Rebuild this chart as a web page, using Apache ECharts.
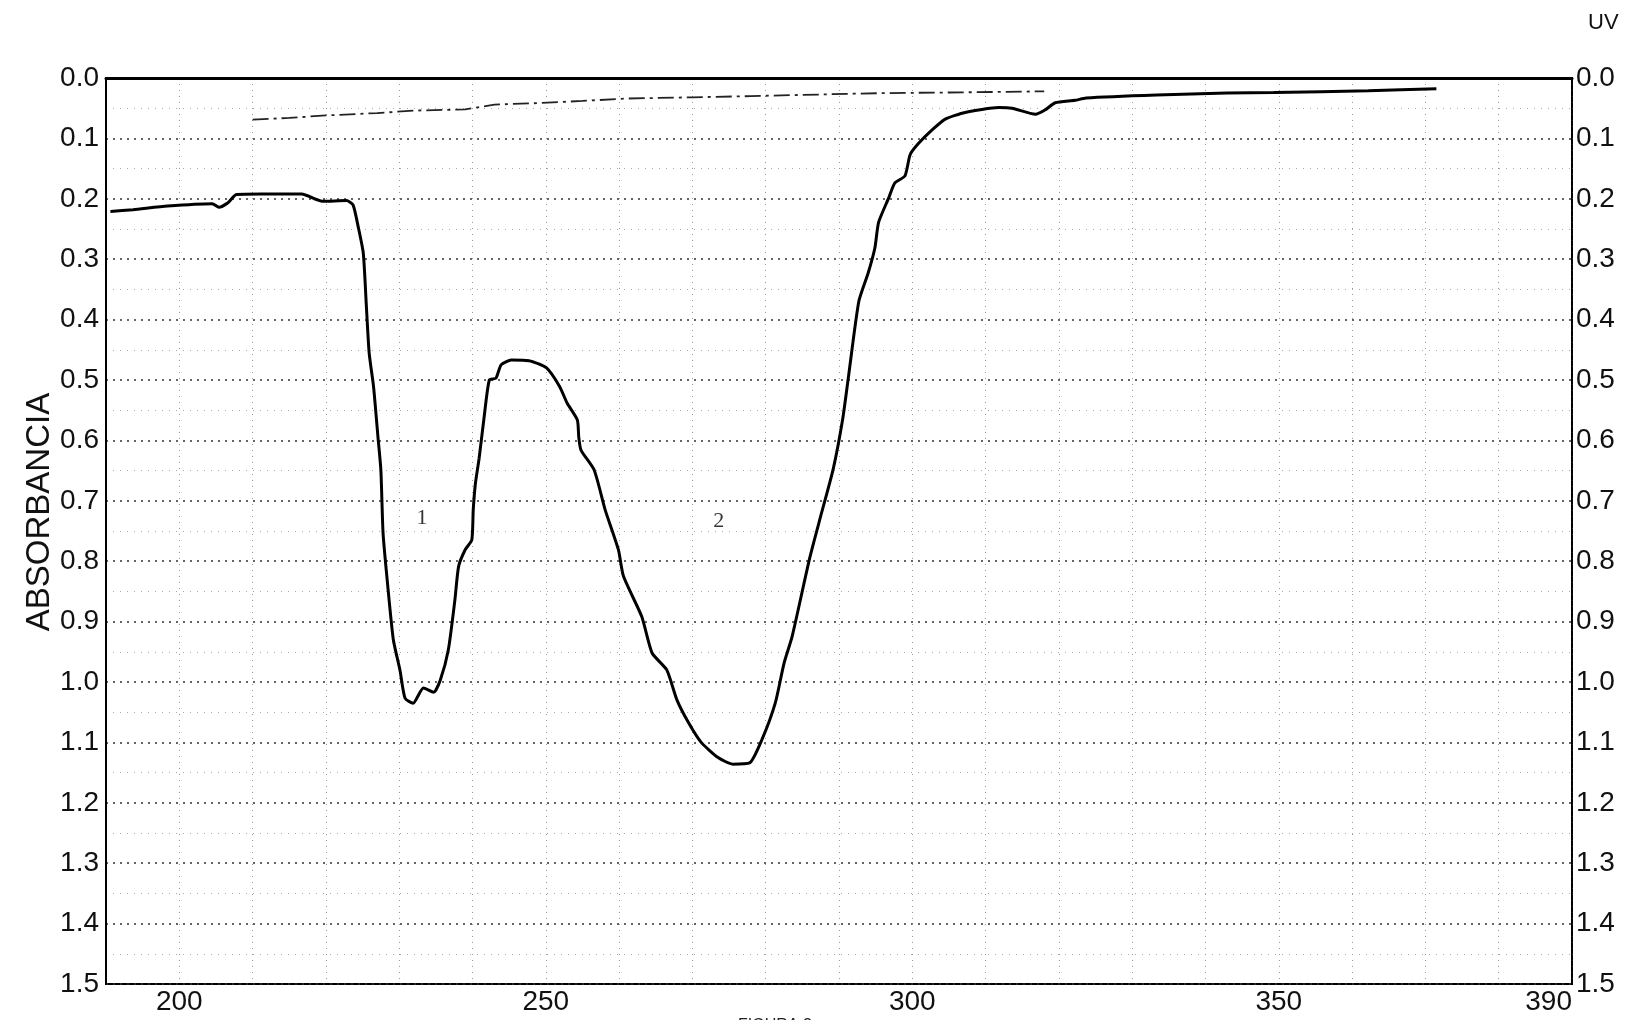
<!DOCTYPE html>
<html>
<head>
<meta charset="utf-8">
<title>UV</title>
<script src="https://cdn.jsdelivr.net/npm/echarts@6/dist/echarts.min.js"></script>
<style>
html, body { margin: 0; padding: 0; background: #fff; }
#uvChart { width: 1636px; height: 1020px; }
</style>
</head>
<body>
<div id="uvChart"></div>
<script>
// espectro (nm, absorbancia)
const wavelength = [
    190.6, 193.7, 198.4, 204.5, 205.4, 206.6, 207.8, 211.1, 216.7, 219.5,
    222.8, 223.7, 224.4, 225.1, 225.5, 225.9, 226.5, 227.1, 227.5, 227.8,
    228.4, 229.2, 230.1, 230.8, 231.9, 233.3, 234.7, 235.6, 236.7, 237.6,
    238.1, 239.0, 239.9, 240.1, 240.4, 240.9, 241.6, 242.3, 243.2, 243.9,
    245.3, 247.7, 250.1, 251.9, 252.9, 254.3, 254.5, 254.8, 256.6, 258.1,
    259.9, 260.6, 263.1, 264.5, 266.5, 267.9, 269.5, 271.2, 273.5, 275.5,
    277.8, 279.5, 281.3, 282.5, 283.6, 286.0, 287.6, 289.2, 290.5, 291.3,
    292.7, 294.0, 294.9, 295.4, 296.8, 297.6, 299.0, 299.7, 300.8, 302.7,
    304.5, 307.2, 311.8, 313.6, 316.8, 318.1, 319.5, 322.2, 323.7, 333.3,
    342.9, 349.3, 362.2, 371.5
];
const absorbance = [
    0.221, 0.218, 0.212, 0.208, 0.214, 0.207, 0.193, 0.192, 0.192, 0.204,
    0.203, 0.210, 0.246, 0.290, 0.373, 0.455, 0.511, 0.594, 0.649, 0.754,
    0.836, 0.930, 0.980, 1.027, 1.035, 1.010, 1.017, 0.997, 0.947, 0.864,
    0.809, 0.781, 0.765, 0.715, 0.671, 0.630, 0.560, 0.500, 0.497, 0.475,
    0.467, 0.468, 0.480, 0.511, 0.538, 0.566, 0.595, 0.616, 0.649, 0.715,
    0.781, 0.825, 0.892, 0.952, 0.980, 1.030, 1.068, 1.100, 1.125, 1.136,
    1.134, 1.095, 1.035, 0.969, 0.925, 0.795, 0.721, 0.648, 0.565, 0.494,
    0.370, 0.322, 0.281, 0.239, 0.198, 0.174, 0.162, 0.127, 0.109, 0.086,
    0.068, 0.057, 0.049, 0.050, 0.060, 0.053, 0.041, 0.037, 0.033, 0.028,
    0.025, 0.024, 0.021, 0.018
];
// linea base (trazo discontinuo)
const baseWavelength = [210, 215, 220, 227, 232, 239, 243, 248, 255, 261, 270, 278, 285, 292, 296, 305, 312, 318];
const baseAbsorbance = [0.069, 0.066, 0.062, 0.058, 0.054, 0.052, 0.044, 0.042, 0.038, 0.034, 0.032, 0.030, 0.028, 0.026, 0.025, 0.024, 0.023, 0.022];
// numeros de banda
const bandLabels = ['1', '2'];
const bandWavelength = [233.1, 273.6];
const bandAbsorbance = [0.729, 0.734];
const xLabels = [200, 250, 300, 350, 390];

const font = 'Liberation Sans';
const chart = echarts.init(document.getElementById('uvChart'));

const yAxisBase = {
    type: 'value',
    inverse: true,
    min: 0,
    max: 1.5,
    interval: 0.1,
    axisTick: { show: false },
    axisLine: { show: true, lineStyle: { color: '#000', width: 2 } },
    axisLabel: {
        fontFamily: font,
        fontSize: 28,
        color: '#111',
        formatter: v => v.toFixed(1)
    }
};

chart.setOption({
    animation: false,
    backgroundColor: '#fff',
    grid: {
        left: 106,
        right: 64,
        top: 78,
        bottom: 36,
        show: true,
        borderColor: '#000',
        borderWidth: 2
    },
    xAxis: {
        type: 'value',
        min: 190,
        max: 390,
        interval: 10,
        axisTick: { show: false },
        axisLine: { show: true, lineStyle: { color: '#000', width: 3 } },
        axisLabel: {
            fontFamily: font,
            fontSize: 28,
            color: '#111',
            margin: 4,
            alignMaxLabel: 'right',
            formatter: v => (xLabels.indexOf(v) >= 0 ? String(v) : '')
        },
        splitLine: {
            show: true,
            lineStyle: { color: '#999', width: 1, type: [1, 5] }
        }
    },
    yAxis: [
        Object.assign({}, yAxisBase, {
            position: 'left',
            axisLabel: Object.assign({}, yAxisBase.axisLabel, { margin: 7 }),
            splitLine: {
                show: true,
                lineStyle: { color: '#333', width: 1.5, type: [2, 5] }
            },
            minorTick: { show: false, splitNumber: 2 },
            minorSplitLine: {
                show: true,
                lineStyle: { color: '#aaa', width: 1, type: [1, 6] }
            }
        }),
        Object.assign({}, yAxisBase, {
            position: 'right',
            axisLine: { show: true, lineStyle: { color: '#000', width: 1.5, type: [4, 2] } },
            axisLabel: Object.assign({}, yAxisBase.axisLabel, { margin: 4 }),
            splitLine: { show: false }
        })
    ],
    graphic: [
        {
            type: 'text',
            x: 40,
            y: 512,
            rotation: Math.PI / 2,
            style: {
                text: 'ABSORBANCIA',
                fontFamily: font,
                fontSize: 33,
                fill: '#111',
                align: 'center',
                verticalAlign: 'middle'
            }
        },
        {
            type: 'text',
            left: 1588,
            top: 12,
            style: { text: 'UV', fontFamily: font, fontSize: 22, fill: '#111' }
        },
        {
            type: 'text',
            left: 738,
            top: 1018,
            style: { text: 'FIGURA 2', fontFamily: font, fontSize: 16, fill: '#222' }
        }
    ],
    series: [
        {
            name: 'base',
            type: 'line',
            showSymbol: false,
            data: baseWavelength.map((w, i) => [w, baseAbsorbance[i]]),
            lineStyle: { color: '#222', width: 1.8, type: [16, 5, 3, 5] },
            z: 3
        },
        {
            name: 'espectro',
            type: 'line',
            showSymbol: false,
            smooth: 0.2,
            data: wavelength.map((w, i) => [w, absorbance[i]]),
            lineStyle: { color: '#000', width: 3 },
            z: 4
        },
        {
            name: 'bandas',
            type: 'scatter',
            symbolSize: 0,
            data: bandWavelength.map((w, i) => [w, bandAbsorbance[i], bandLabels[i]]),
            label: {
                show: true,
                position: 'inside',
                formatter: p => p.value[2],
                fontFamily: 'Liberation Serif',
                fontSize: 22,
                color: '#000'
            },
            z: 5
        }
    ]
});
</script>
</body>
</html>
